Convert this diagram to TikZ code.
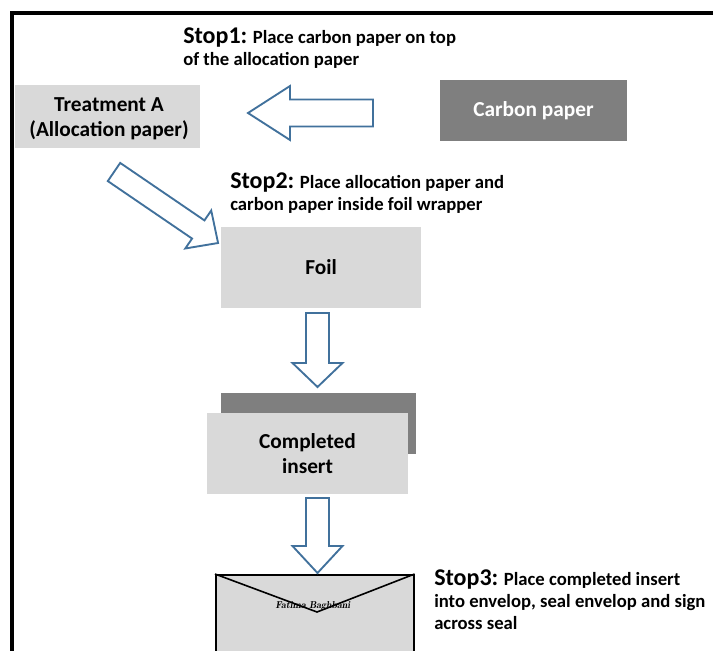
\documentclass[tikz,border=0pt]{standalone}
\usepackage{fontspec}
\setmainfont{Carlito}
\definecolor{arrowblue}{HTML}{41719C}
\definecolor{lightbox}{HTML}{D9D9D9}
\definecolor{darkbox}{HTML}{7F7F7F}
\newcommand{\blockarr}[7]{%
  \begin{scope}[shift={(#1)}, rotate=#2]
    \draw[blockarrow] (0,-#4) -- (#3-#6,-#4) -- (#3-#6,-#5) -- (#3,0)
      -- (#3-#6,#5) -- (#3-#6,#4) -- (0,#4) -- cycle;
  \end{scope}}
\begin{document}
\begin{tikzpicture}[x=0.75pt,y=-0.75pt,
  box/.style={fill=lightbox, draw=none, inner sep=0pt, align=center,
    font=\bfseries\fontsize{16}{19}\selectfont},
  darkbx/.style={fill=darkbox, draw=none, inner sep=0pt, align=center,
    text=white, font=\bfseries\fontsize{16}{19}\selectfont},
  steptext/.style={anchor=base west, inner sep=0pt, align=left,
    font=\bfseries\fontsize{14}{16.5}\selectfont},
  blockarrow/.style={draw=arrowblue, fill=white, line width=1.4pt, line join=miter},
  frame/.style={line width=3pt, draw=black}]
\useasboundingbox (0,0) rectangle (713,650);
\clip (0,0) rectangle (713,650);
% frame
\draw[frame] (12,660) -- (12,13) -- (720,13);
% boxes
\node[box, minimum width=138.75pt, minimum height=47.25pt] (treat) at (107.5,116.5) {};
\node[align=center, inner sep=0pt, font=\bfseries\fontsize{16}{19}\selectfont]
  (treattext) at (109,118.5) {Treatment A\\(Allocation paper)};
\node[darkbx, minimum width=140.25pt, minimum height=45.75pt] (carbon) at (533.5,110.5)
  {Carbon paper};
\node[box, minimum width=150pt, minimum height=60.75pt] (foil) at (321,267.5) {Foil};
\node[fill=darkbox, inner sep=0pt, minimum width=146.25pt, minimum height=45.75pt] (back) at (318.5,423.5) {};
\node[box, minimum width=150.75pt, minimum height=60.75pt] (insert) at (307.5,453.5)
  {Completed\\insert};
% envelope
\node[fill=lightbox, draw=black, line width=1.2pt, inner sep=0pt,
  minimum width=148.5pt, minimum height=90pt, anchor=north west] (env) at (215,574) {};
\coordinate (flap) at (317,612);
\draw[black, line width=1.2pt] (env.north west) -- (flap) -- (env.north east);
\node[inner sep=0pt, font=\fontfamily{lmr}\bfseries\itshape\fontsize{7.5}{9}\selectfont] (sig) at (313,606) {Fatima Baghbani};
% arrows
\coordinate (a1) at (373,113);
\coordinate (a2) at (114,172);
\coordinate (a3) at (317.5,313);
\coordinate (a4) at (317.5,498);
\blockarr{a1}{180}{125}{13.5}{27}{42}{}
\blockarr{a2}{-34.3}{126}{11}{23}{24}{}
\blockarr{a3}{-90}{74}{11.5}{25}{24}{}
\blockarr{a4}{-90}{75}{11.5}{25}{27}{}
% step texts (anchored at the baseline of the last line)
\node[steptext] (s1) at (183,65)
  {{\fontsize{18}{16.5}\selectfont Stop1:} Place carbon paper on top\\of the allocation paper};
\node[steptext] (s2) at (230,210)
  {{\fontsize{18}{16.5}\selectfont Stop2:} Place allocation paper and\\carbon paper inside foil wrapper};
\node[steptext] (s3) at (434,629)
  {{\fontsize{18}{16.5}\selectfont Stop3:} Place completed insert\\into envelop, seal envelop and sign\\across seal};
\end{tikzpicture}
\end{document}
